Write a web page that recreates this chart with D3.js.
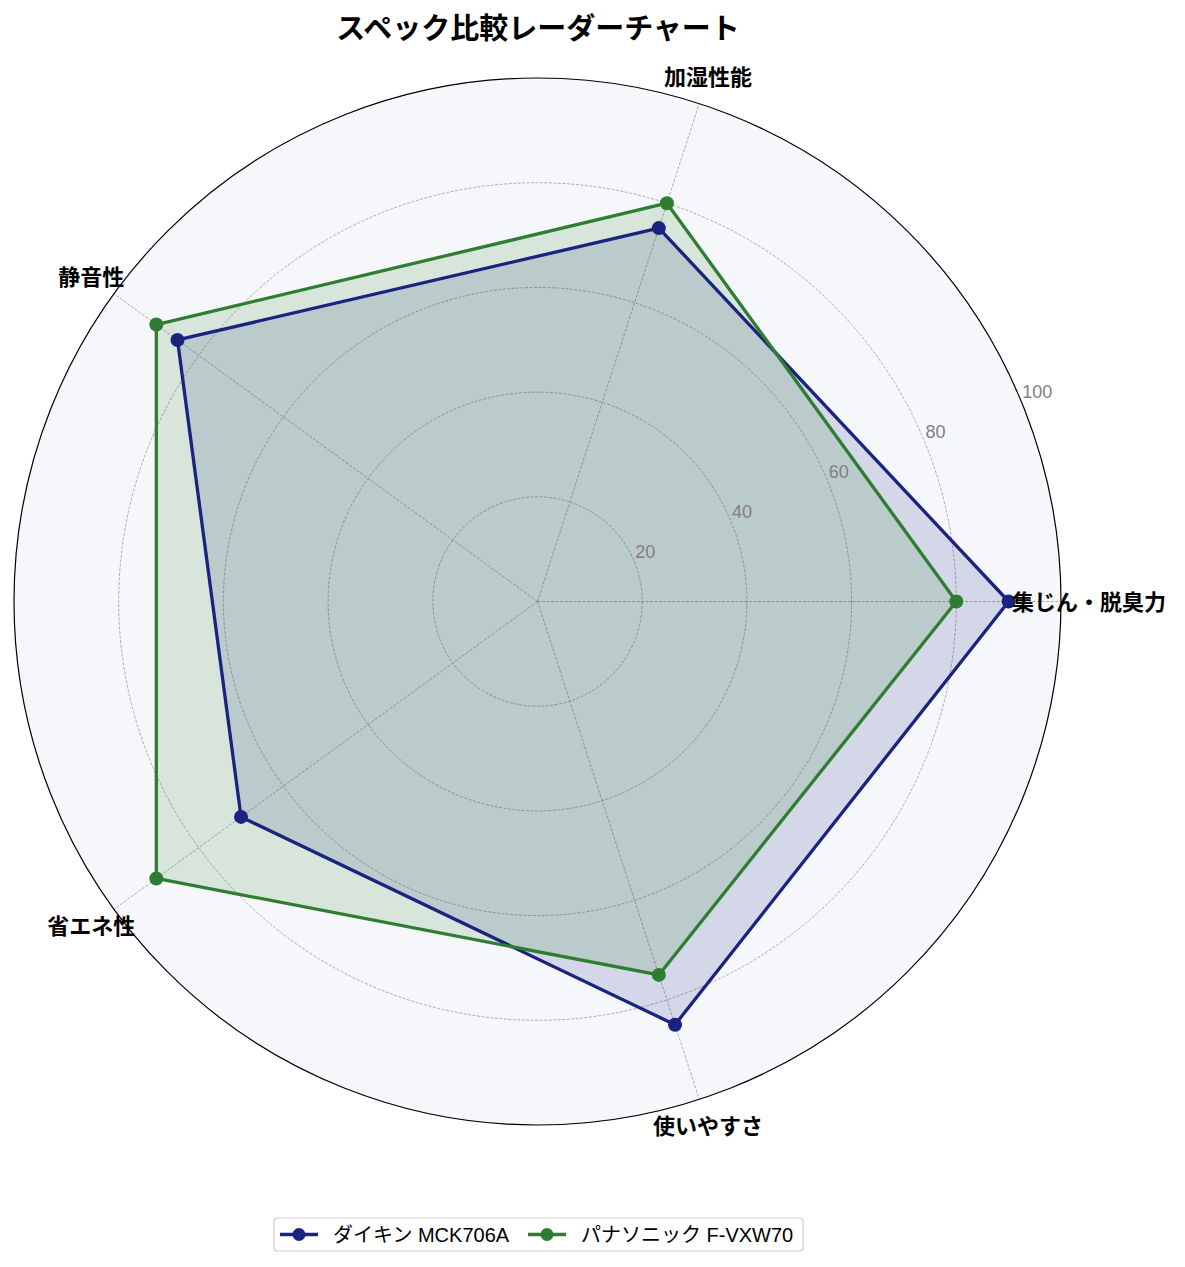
<!DOCTYPE html>
<html><head><meta charset="utf-8">
<script src="https://cdn.jsdelivr.net/npm/d3@7/dist/d3.min.js"></script>
<style>
body{margin:0;background:#fff;}
svg{display:block;font-family:"Noto Sans CJK JP","Noto Sans",sans-serif;}
</style></head>
<body><svg id="chart" width="1185" height="1267"></svg>
<script>
const categories = ["集じん・脱臭力","加湿性能","静音性","省エネ性","使いやすさ"];
const seriesNames = ["ダイキン MCK706A","パナソニック F-VXW70"];
const daikinValues = [90,75,85,70,85];
const panasonicValues = [80,80,90,90,75];
const radialTicks = [20,40,60,80,100];
const colors = ["#1a237e","#2e7d32"];
const title = "スペック比較レーダーチャート";

const svg = d3.select("#chart");
const cx = 537.5, cy = 601.5, R = 523.5;
const g = svg.append("g").attr("transform",`translate(${cx},${cy})`);
const r = d3.scaleLinear().domain([0,100]).range([0,R]);
const ang = d3.scaleLinear().domain([0,categories.length]).range([0,2*Math.PI]);
const px = (i,v)=> r(v)*Math.cos(ang(i));
const py = (i,v)=> -r(v)*Math.sin(ang(i));

g.append("circle").attr("r",R).attr("fill","#f5f7fa");

g.selectAll(".gc").data(radialTicks.slice(0,-1)).join("circle")
  .attr("r",d=>r(d)).attr("fill","none").attr("stroke","#999")
  .attr("stroke-width",0.8).attr("stroke-dasharray","3,1.5");
g.selectAll(".sp").data(categories).join("line")
  .attr("x1",0).attr("y1",0)
  .attr("x2",(d,i)=>px(i,100)).attr("y2",(d,i)=>py(i,100))
  .attr("stroke","#999").attr("stroke-width",0.8).attr("stroke-dasharray","3,1.5");

const allSeries = [daikinValues,panasonicValues];
const line = d3.lineRadial().angle((d,i)=>Math.PI/2 - ang(i)).radius(d=>r(d)).curve(d3.curveLinearClosed);

allSeries.forEach((vals,s)=>{
  g.append("path").datum(vals).attr("d",line)
    .attr("fill",colors[s]).attr("fill-opacity",0.15).attr("stroke","none");
});
allSeries.forEach((vals,s)=>{
  g.append("path").datum(vals).attr("d",line)
    .attr("fill","none").attr("stroke",colors[s]).attr("stroke-width",3.3).attr("stroke-linejoin","round");
  g.selectAll(".m"+s).data(vals).join("circle")
    .attr("cx",(d,i)=>px(i,d)).attr("cy",(d,i)=>py(i,d)).attr("r",7).attr("fill",colors[s]);
});

g.append("circle").attr("r",R).attr("fill","none").attr("stroke","#000").attr("stroke-width",1.2);

const ra = 22.5*Math.PI/180;
g.selectAll(".rt").data(radialTicks).join("text")
  .attr("x",d=>r(d)*Math.cos(ra)+1).attr("y",d=>-r(d)*Math.sin(ra)-3)
  .attr("fill","#808080").attr("font-size",18)
  .attr("font-family","'Liberation Sans','Noto Sans',sans-serif")
  .text(d=>d);

g.selectAll(".cl").data(categories).join("text")
  .attr("x",(d,i)=>(R+28)*Math.cos(ang(i))).attr("y",(d,i)=>-(R+28)*Math.sin(ang(i))-2)
  .attr("text-anchor","middle").attr("dominant-baseline","central")
  .attr("font-size",22).attr("font-weight","bold").attr("fill","#000")
  .text(d=>d);

svg.append("text").attr("x",538).attr("y",26).attr("text-anchor","middle")
  .attr("dominant-baseline","central").attr("font-size",29).attr("font-weight","bold")
  .text(title);

const lg = svg.append("g");
const lx = 274, ly = 1218, lw = 529, lh = 33;
lg.append("rect").attr("x",lx).attr("y",ly).attr("width",lw).attr("height",lh)
  .attr("rx",3).attr("fill","#fff").attr("stroke","#ccc").attr("stroke-width",1.2);
const itemX = [280, 528];
seriesNames.forEach((name,s)=>{
  const x0 = itemX[s], yc = ly+lh/2;
  lg.append("line").attr("x1",x0).attr("x2",x0+38).attr("y1",yc).attr("y2",yc)
    .attr("stroke",colors[s]).attr("stroke-width",3.3);
  lg.append("circle").attr("cx",x0+19).attr("cy",yc).attr("r",6.5).attr("fill",colors[s]);
  lg.append("text").attr("x",x0+53).attr("y",yc).attr("dominant-baseline","central")
    .attr("font-size",20).attr("fill","#000")
    .attr("font-family","'Liberation Sans','Noto Sans CJK JP',sans-serif").text(name);
});
</script></body></html>
